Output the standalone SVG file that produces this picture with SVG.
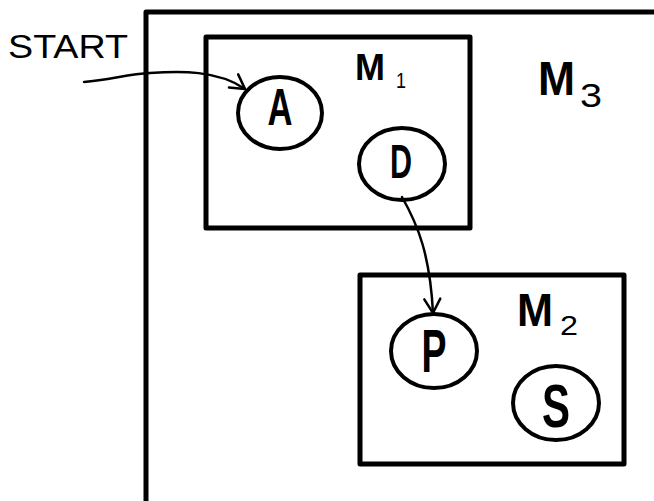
<svg xmlns="http://www.w3.org/2000/svg" width="654" height="501" viewBox="0 0 654 501">
  <style>
    .box { fill: none; stroke: #000; stroke-width: 5; stroke-linejoin: round; }
    .state { fill: #fff; stroke: #000; stroke-width: 4; }
    .edge { fill: none; stroke: #000; stroke-width: 2.5; stroke-linecap: round; }
    .lbl { font-family: "Liberation Sans", Arial, sans-serif; font-weight: bold; fill: #000; }
    .st { font-family: "Liberation Sans", Arial, sans-serif; fill: #000; }
  </style>
  <defs>
    <marker id="arrow" viewBox="0 0 20 20" refX="18" refY="10" markerWidth="20" markerHeight="20" markerUnits="userSpaceOnUse" orient="auto">
      <path d="M4,2 L18,10 L4,18" fill="none" stroke="#000" stroke-width="2.5" stroke-linecap="round" stroke-linejoin="round"/>
    </marker>
  </defs>
  <rect width="654" height="501" fill="#fff"/>

  <g id="node-M3">
    <rect class="box" x="146" y="12" width="620" height="600"/>
    <text class="lbl" x="538" y="95" font-size="48" textLength="37" lengthAdjust="spacingAndGlyphs">M</text>
    <text class="st" x="580" y="107" font-size="34" textLength="22" lengthAdjust="spacingAndGlyphs">3</text>
  </g>

  <g id="node-M1">
    <rect class="box" x="206" y="37" width="264" height="191"/>
    <text class="lbl" x="355" y="80" font-size="37" textLength="30" lengthAdjust="spacingAndGlyphs">M</text>
    <text class="st" x="396" y="88" font-size="22" textLength="10" lengthAdjust="spacingAndGlyphs">1</text>
  </g>

  <g id="node-M2">
    <rect class="box" x="360" y="275" width="264" height="189"/>
    <text class="lbl" x="517" y="326" font-size="46" textLength="36" lengthAdjust="spacingAndGlyphs">M</text>
    <text class="st" x="560" y="335" font-size="28" textLength="18" lengthAdjust="spacingAndGlyphs">2</text>
  </g>

  <g id="node-A">
    <ellipse class="state" cx="280" cy="113" rx="42" ry="36"/>
    <text class="lbl" x="280" y="125" font-size="51" text-anchor="middle" textLength="25" lengthAdjust="spacingAndGlyphs">A</text>
  </g>

  <g id="node-D">
    <ellipse class="state" cx="402" cy="164" rx="43" ry="36"/>
    <text class="lbl" x="401" y="178" font-size="49" text-anchor="middle" textLength="22" lengthAdjust="spacingAndGlyphs">D</text>
  </g>

  <g id="node-P">
    <ellipse class="state" cx="434" cy="351" rx="43" ry="37"/>
    <text class="lbl" x="434" y="372" font-size="61" text-anchor="middle" textLength="25" lengthAdjust="spacingAndGlyphs">P</text>
  </g>

  <g id="node-S">
    <ellipse class="state" cx="556" cy="403" rx="43" ry="37"/>
    <text class="lbl" x="556" y="427" font-size="61" text-anchor="middle" textLength="28" lengthAdjust="spacingAndGlyphs">S</text>
  </g>

  <g id="label-start">
    <text class="st" x="8" y="58" font-size="33" textLength="120" lengthAdjust="spacingAndGlyphs">START</text>
  </g>

  <g id="connectors">
    <path class="edge" d="M84,82 C110,80 128,74 150,73 C180,71 218,70 245,89" marker-end="url(#arrow)"/>
    <path class="edge" d="M402,197 C418,225 430,255 433,313" marker-end="url(#arrow)"/>
  </g>
</svg>
